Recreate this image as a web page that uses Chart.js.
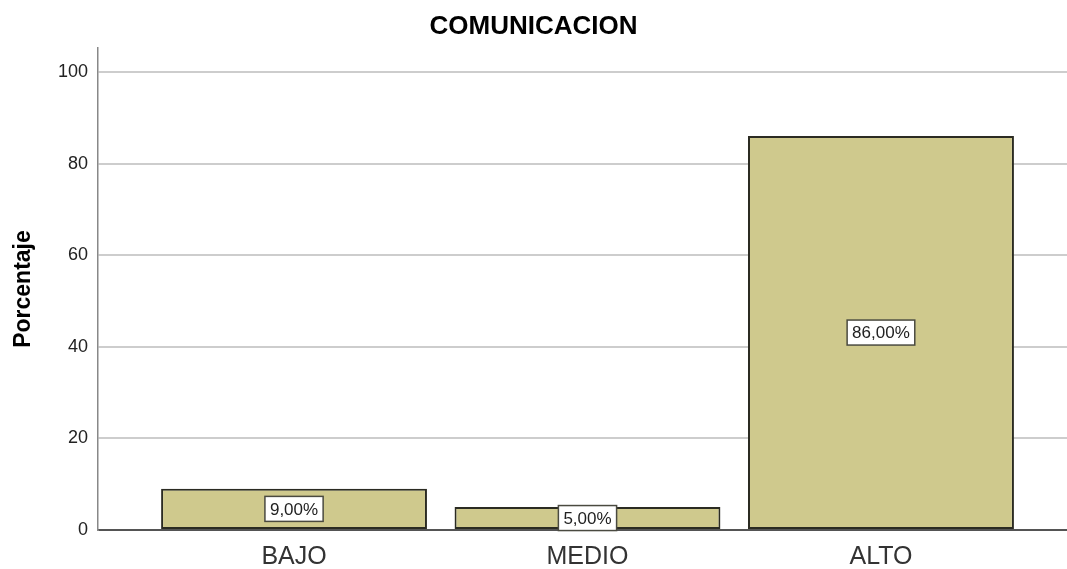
<!DOCTYPE html>
<html>
<head>
<meta charset="utf-8">
<script src="https://cdn.jsdelivr.net/npm/chart.js@4"></script>
<style>
  body { margin: 0; background: #fff; }
  #wrap { width: 1067px; height: 569px; }
</style>
</head>
<body>
<div id="wrap"><canvas id="myChart"></canvas></div>
<script>
// categories and percentages
var categories = ["BAJO", "MEDIO", "ALTO"];
var percent = [9, 5, 86];
var yTicks = [0, 20, 40, 60, 80, 100];

var FONT = "'Liberation Sans', Arial, sans-serif";

// label box in the middle of each bar, e.g. "9,00%"
var barLabels = {
  id: 'barLabels',
  afterDatasetsDraw: function(chart) {
    var ctx = chart.ctx;
    var meta = chart.getDatasetMeta(0);
    ctx.save();
    ctx.font = "17px " + FONT;
    ctx.textAlign = 'center';
    ctx.textBaseline = 'middle';
    meta.data.forEach(function(bar, i) {
      var txt = percent[i].toFixed(2).replace('.', ',') + '%';
      var cx = bar.x;
      var cy = (bar.y + bar.base) / 2;
      var w = ctx.measureText(txt).width + 10;
      var h = 25;
      ctx.fillStyle = '#ffffff';
      ctx.fillRect(cx - w / 2, cy - h / 2, w, h);
      ctx.strokeStyle = '#4a4a40';
      ctx.lineWidth = 1.5;
      ctx.strokeRect(cx - w / 2, cy - h / 2, w, h);
      ctx.fillStyle = '#222';
      ctx.fillText(txt, cx, cy + 1);
    });
    ctx.restore();
  }
};

var ctx = document.getElementById("myChart");
var myChart = new Chart(ctx, {
  type: 'bar',
  data: {
    datasets: [
      {
        data: percent.map(function(v, i) { return { x: i + 1, y: v }; }),
        backgroundColor: "#cfc98d",
        borderColor: "#2b2b22",
        borderWidth: 2,
        borderSkipped: false,
        categoryPercentage: 1,
        barPercentage: 0.906
      }
    ]
  },
  options: {
    responsive: true,
    maintainAspectRatio: false,
    animation: false,
    layout: { padding: 0 },
    plugins: {
      legend: { display: false },
      tooltip: { enabled: false },
      title: {
        display: true,
        text: "COMUNICACION",
        color: "#000",
        font: { family: FONT, size: 26, weight: 'bold', lineHeight: 1.2 },
        padding: { top: 11, bottom: 5.8 }
      }
    },
    scales: {
      x: {
        type: 'linear',
        offset: false,
        min: 0.332,
        max: 3.634,
        afterBuildTicks: function(scale) {
          scale.ticks = categories.map(function(c, i) { return { value: i + 1 }; });
        },
        afterFit: function(scale) { scale.height = 39; },
        grid: { display: false, drawTicks: false, offset: false },
        border: { display: true, color: '#555', width: 1.5 },
        ticks: {
          autoSkip: false,
          maxRotation: 0,
          padding: 12,
          color: '#333',
          font: { family: FONT, size: 25 },
          callback: function(v) { return categories[v - 1]; }
        }
      },
      y: {
        min: 0,
        max: 105.24,
        afterBuildTicks: function(scale) {
          scale.ticks = yTicks.map(function(v) { return { value: v }; });
        },
        afterFit: function(scale) { scale.width = 98; },
        grid: {
          drawTicks: false,
          lineWidth: 2,
          color: function(c) { return c.tick && c.tick.value === 0 ? '#555' : '#cdcdcd'; }
        },
        border: { display: true, color: '#888', width: 1.5 },
        ticks: {
          padding: 10,
          color: '#222',
          font: { family: FONT, size: 18 }
        },
        title: {
          display: true,
          text: "Porcentaje",
          color: '#000',
          font: { family: FONT, size: 23, weight: 'bold', lineHeight: 1.2 },
          padding: { top: 10, bottom: 0 }
        }
      }
    }
  },
  plugins: [barLabels]
});
</script>
</body>
</html>
